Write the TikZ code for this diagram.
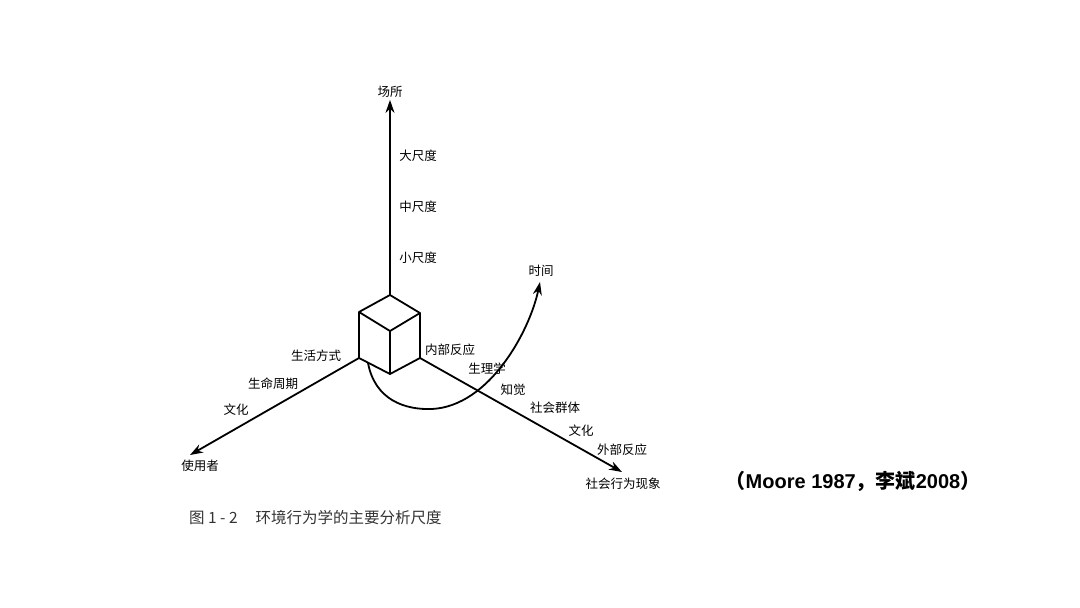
\documentclass[tikz,border=0pt]{standalone}
\usepackage{fontspec}
\setsansfont{Liberation Sans}
\newfontfamily\cjk{Noto Sans CJK SC}
\usetikzlibrary{arrows.meta}

\begin{document}
\begin{tikzpicture}[x=1pt,y=-1pt,
  edge/.style={line width=1.8pt,line join=round},
  axis/.style={edge,-{Stealth[length=13pt,width=9pt]}},
  lbl/.style={font=\cjk\fontsize{12.5}{14}\selectfont,inner sep=1pt}]
  \useasboundingbox (0,0) rectangle (1080,608);

  % cube
  \coordinate (T) at (390,295);
  \coordinate (LT) at (359,312);
  \coordinate (RT) at (420,313);
  \coordinate (C) at (390,331);
  \coordinate (LB) at (359,358);
  \coordinate (RB) at (420,358);
  \coordinate (B) at (390,374);
  \draw[edge] (T) -- (LT) -- (LB) -- (B) -- (RB) -- (RT) -- cycle;
  \draw[edge] (LT) -- (C) -- (RT) (C) -- (B);

  % axes
  \node[lbl] (place) at (390,92) {场所};
  \draw[axis,shorten >=1pt] (T) -- (place);
  \coordinate (userTip) at (190,455);
  \node[lbl] (user) at (200,466) {使用者};
  \draw[axis] (LB) -- (userTip);
  \coordinate (socTip) at (622,472);
  \node[lbl] (social) at (623,484) {社会行为现象};
  \draw[axis] (RB) -- (socTip);

  % time
  \coordinate (timeStart) at (368,363);
  \coordinate (timeTip) at (540,282);
  \node[lbl] (time) at (541,271) {时间};
  \draw[axis] (timeStart) .. controls (375,400) and (405,410) .. (432,409)
    .. controls (490,406) and (530,330) .. (timeTip);

  % scale labels
  \node[lbl] (large) at (418,156) {大尺度};
  \node[lbl] (medium) at (418,207) {中尺度};
  \node[lbl] (small) at (418,258) {小尺度};
  \node[lbl] (life) at (316,356) {生活方式};
  \node[lbl] (cycle) at (273,384) {生命周期};
  \node[lbl] (cultA) at (236,410) {文化};
  \node[lbl] (inner) at (450,350) {内部反应};
  \node[lbl] (phys) at (487,369) {生理学};
  \node[lbl] (perc) at (513,390) {知觉};
  \node[lbl] (group) at (555,408) {社会群体};
  \node[lbl] (cultB) at (581,431) {文化};
  \node[lbl] (outer) at (622,450) {外部反应};

  % caption and source
  \node[font=\cjk\fontsize{15.5}{17}\selectfont,anchor=west,inner sep=0pt,text=black!80] (caption)
    at (189,518) {图 1 - 2\hspace{18pt}环境行为学的主要分析尺度};
  \node[font=\sffamily\bfseries\fontsize{20}{22}\selectfont,inner sep=0pt] (source)
    at (853,481) {{\cjk （}Moore 1987{\cjk ，李斌}2008{\cjk ）}};
\end{tikzpicture}
\end{document}
